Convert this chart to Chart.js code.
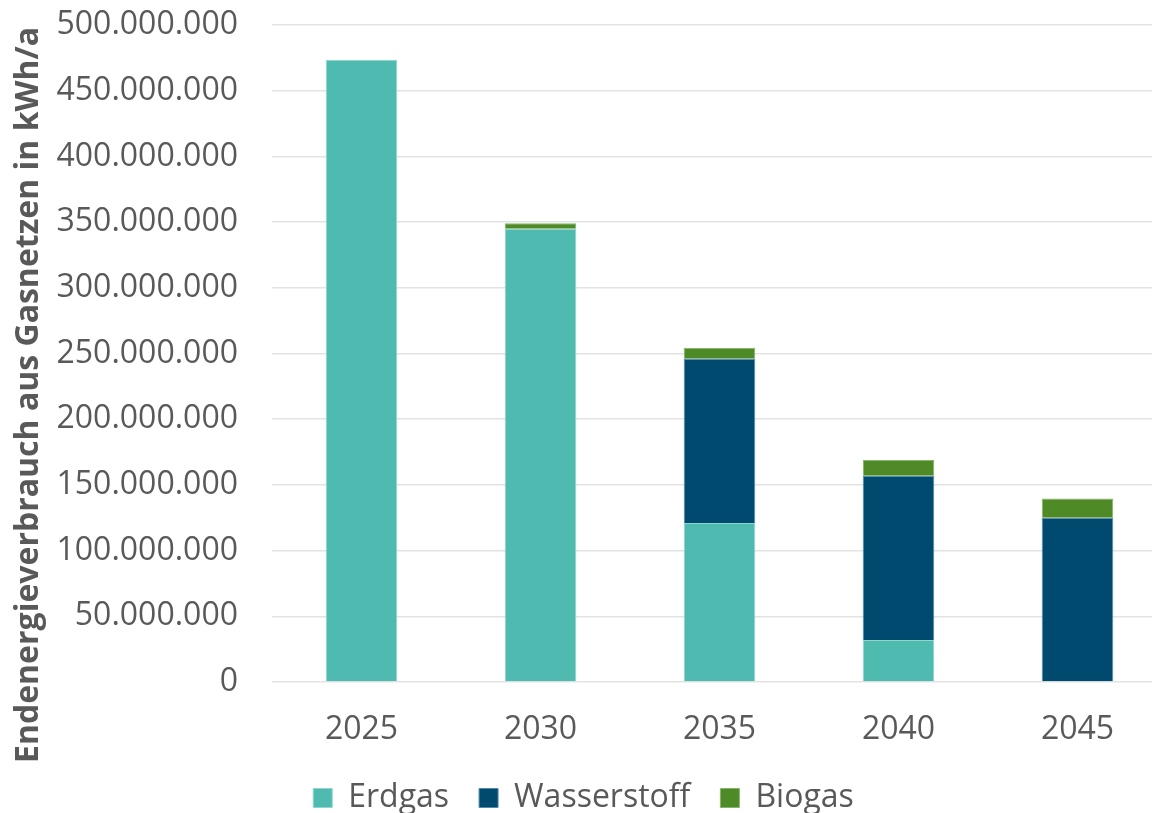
<!DOCTYPE html>
<html lang="de">
<head>
<meta charset="utf-8">
<title>Endenergieverbrauch aus Gasnetzen</title>
<script src="https://cdn.jsdelivr.net/npm/chart.js@4/dist/chart.umd.min.js"></script>
<style>
  html, body { margin: 0; padding: 0; background: #fff; overflow: hidden; }
  #wrap { width: 1167px; height: 813px; }
</style>
</head>
<body>
<div id="wrap"><canvas id="gasChart"></canvas></div>
<script>
// Jahre und Werte in kWh/a
const jahre = ['2025', '2030', '2035', '2040', '2045'];
const erdgas = [473500000, 345000000, 121000000, 32000000, 0];
const wasserstoff = [0, 0, 125000000, 125000000, 125000000];
const biogas = [0, 4200000, 8300000, 12200000, 14700000];

const achsenTitel = 'Endenergieverbrauch aus Gasnetzen in kWh/a';

// Tausenderpunkte wie in der deutschen Schreibweise
function formatZahl(v) {
  return String(Math.round(v)).replace(/\B(?=(\d{3})+(?!\d))/g, '.');
}

const grau = '#595959';
Chart.defaults.font.family = "'Open Sans', sans-serif";
Chart.defaults.color = grau;

// Y-Achsentitel senkrecht am linken Rand
const titelPlugin = {
  id: 'achsenTitel',
  afterDraw(chart) {
    const c = chart.ctx;
    c.save();
    c.translate(29, 395);
    c.rotate(-Math.PI / 2);
    c.font = "bold 32px 'Open Sans', sans-serif";
    c.fillStyle = grau;
    c.textAlign = 'center';
    c.textBaseline = 'middle';
    c.fillText(achsenTitel, 0, 0);
    c.restore();
  }
};

const ctx = document.getElementById('gasChart').getContext('2d');

const data = {
  labels: jahre,
  datasets: [
    {
      label: 'Erdgas',
      data: erdgas,
      backgroundColor: '#4fbab0',
      borderColor: '#8fd6cf',
      borderWidth: 1
    },
    {
      label: 'Wasserstoff',
      data: wasserstoff,
      backgroundColor: '#004a70',
      borderColor: '#4f8aa8',
      borderWidth: 1
    },
    {
      label: 'Biogas',
      data: biogas,
      backgroundColor: '#4e8a25',
      borderColor: '#86b36a',
      borderWidth: 1
    }
  ]
};

const options = {
  responsive: true,
  maintainAspectRatio: false,
  animation: false,
  layout: { padding: { top: 25, right: 0, bottom: -11, left: 0 } },
  datasets: {
    bar: { barPercentage: 0.4, categoryPercentage: 1.0 }
  },
  plugins: {
    tooltip: { enabled: false },
    legend: {
      position: 'bottom',
      labels: {
        boxWidth: 19,
        boxHeight: 19,
        padding: 30,
        font: { size: 32 },
        color: grau
      }
    }
  },
  scales: {
    x: {
      stacked: true,
      grid: { display: false, drawTicks: false },
      border: { display: false },
      ticks: { font: { size: 32 }, padding: 29, color: grau },
      afterFit: (scale) => { scale.height = 70; }
    },
    y: {
      stacked: true,
      min: 0,
      max: 500000000,
      // unsichtbare Tick-Striche als Abstand zwischen Zahlen und Gitter
      grid: { color: '#e3e3e3', lineWidth: 1.5, drawTicks: true, tickLength: 34, tickColor: 'rgba(0,0,0,0)' },
      border: { display: false },
      ticks: {
        stepSize: 50000000,
        font: { size: 32 },
        padding: 0,
        color: grau,
        callback: (v) => formatZahl(v)
      },
      afterFit: (scale) => { scale.width = 272; }
    }
  }
};

new Chart(ctx, { type: 'bar', data: data, options: options, plugins: [titelPlugin] });
</script>
</body>
</html>
